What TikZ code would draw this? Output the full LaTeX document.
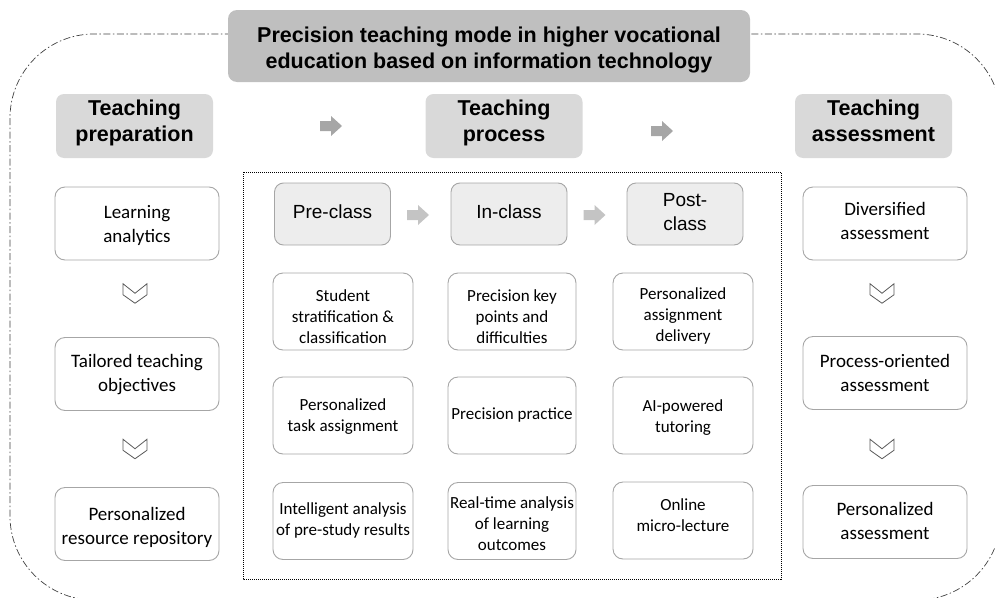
\documentclass[tikz,border=0pt]{standalone}
\usepackage{fontspec}
\newfontfamily\arialfont{Liberation Sans}
\newfontfamily\calfont{Carlito}
\usetikzlibrary{calc}
\definecolor{titlegray}{HTML}{BFBFBF}
\definecolor{headgray}{HTML}{D9D9D9}
\definecolor{phasegray}{HTML}{EDEDED}
\definecolor{edgegray}{HTML}{A6A6A6}
\definecolor{arrowdark}{HTML}{A6A6A6}
\definecolor{arrowlight}{HTML}{C4C4C4}
\definecolor{framegray}{HTML}{404040}
\definecolor{chevgray}{HTML}{595959}

\tikzset{
  % bl = twice the drop of the last baseline below the node centre
  bl/.style={text depth=0pt, text height=#1},
  titlebox/.style={fill=titlegray, rounded corners=9pt, minimum width=522pt,
    minimum height=72pt, align=center, inner sep=0pt,
    font=\arialfont\bfseries\fontsize{21.5}{26}\selectfont},
  headbox/.style={fill=headgray, rounded corners=8pt, minimum width=157pt,
    minimum height=64pt, align=center, inner sep=0pt, bl=31pt,
    font=\arialfont\bfseries\fontsize{21.5}{26.5}\selectfont},
  stepbox/.style={draw=edgegray, line width=0.9pt, fill=white, rounded corners=10pt,
    minimum width=164pt, minimum height=73pt, align=center, inner sep=0pt,
    font=\calfont\fontsize{19}{24}\selectfont},
  phasebox/.style={draw=edgegray, line width=0.9pt, fill=phasegray, rounded corners=9pt,
    minimum width=116pt, minimum height=62pt, align=center, inner sep=0pt,
    font=\arialfont\fontsize{19}{23.3}\selectfont},
  itembox/.style={draw=edgegray, line width=0.9pt, fill=white, rounded corners=10pt,
    minimum height=77pt, align=center, inner sep=0pt,
    font=\calfont\fontsize{17}{21}\selectfont},
  chevline/.style={draw=chevgray, line width=0.8pt, line join=miter},
  pics/chev/.style={code={
    \draw[chevline] (-12,-9.75) -- (0,-0.25) -- (12,-9.75) -- (12,1.25)
      -- (0,9.75) -- (-12,1.25) -- cycle;}},
  pics/barrow/.style={code={
    \fill[#1] (-11,-5) -- (0,-5) -- (0,-10) -- (11,0) -- (0,10) -- (0,5)
      -- (-11,5) -- cycle;}}
}

\begin{document}
\begin{tikzpicture}[x=1pt,y=-1pt]
\useasboundingbox (0,0) rectangle (995,597);

% outer dash-dot frame, running past the page edge on the right and bottom
\begin{scope}
  \clip (0,0) rectangle (995,597);
  \draw[framegray, line width=0.7pt, dash pattern=on 7pt off 2.5pt on 1.5pt off 2.5pt,
    rounded corners=84pt] (10,34) rectangle (1001,600);
\end{scope}

% title
\node[titlebox, bl=44pt] (title) at (489,46)
  {Precision teaching mode in higher vocational\\education based on information technology};

% stage headers
\node[headbox] (prep) at (134.5,126) {Teaching\\preparation};
\node[headbox] (proc) at (504,126) {Teaching\\process};
\node[headbox] (asse) at (873.5,126) {Teaching\\assessment};

\pic at (331,126) {barrow=arrowdark};
\pic at (662,131) {barrow=arrowdark};

% preparation column
\node[stepbox, bl=37.8pt] (la) at (137,223.5) {Learning\\analytics};
\node[stepbox, bl=34.8pt] (tto) at (137,374) {Tailored teaching\\objectives};
\node[stepbox, bl=40pt] (prr) at (137,524) {Personalized\\resource repository};
\pic at (135,293.5) {chev};
\pic at (135,449) {chev};

% assessment column
\node[stepbox, bl=31.8pt] (da) at (885,223.5) {Diversified\\assessment};
\node[stepbox, bl=36.8pt] (poa) at (885,373) {Process-oriented\\assessment};
\node[stepbox, bl=35.8pt] (pa) at (885,522) {Personalized\\assessment};
\pic at (882,293.5) {chev};
\pic at (882,449) {chev};

% teaching process block
\draw[black, line width=1pt, dash pattern=on 1pt off 1pt] (243,172) rectangle (781,579);

\node[phasebox, bl=8pt] (pre) at (332.5,214) {Pre-class};
\node[phasebox, bl=8pt] (in) at (509,214) {In-class};
\node[phasebox, bl=32pt] (post) at (685,214) {Post-\\class};
\pic at (418,215) {barrow=arrowlight};
\pic at (594.5,215) {barrow=arrowlight};

\node[itembox, minimum width=140pt, bl=63pt] (s1) at (343,311.5) {Student\\stratification \&\\classification};
\node[itembox, minimum width=140pt, bl=31pt] (s2) at (343,415.5) {Personalized\\task assignment};
\node[itembox, minimum width=140pt, bl=28pt] (s3) at (343,521) {Intelligent analysis\\of pre-study results};

\node[itembox, minimum width=128pt, bl=63pt] (c1) at (512,311.5) {Precision key\\points and\\difficulties};
\node[itembox, minimum width=128pt, bl=7pt] (c2) at (512,415.5) {Precision practice};
\node[itembox, minimum width=128pt, bl=59pt] (c3) at (512,521) {Real-time analysis\\of learning\\outcomes};

\node[itembox, minimum width=140pt, bl=60pt] (p1) at (683,311.5) {Personalized\\assignment\\delivery};
\node[itembox, minimum width=140pt, bl=33pt] (p2) at (683,415.5) {AI-powered\\tutoring};
\node[itembox, minimum width=140pt, bl=22pt] (p3) at (683,520.5) {Online\\micro-lecture};
\end{tikzpicture}
\end{document}
